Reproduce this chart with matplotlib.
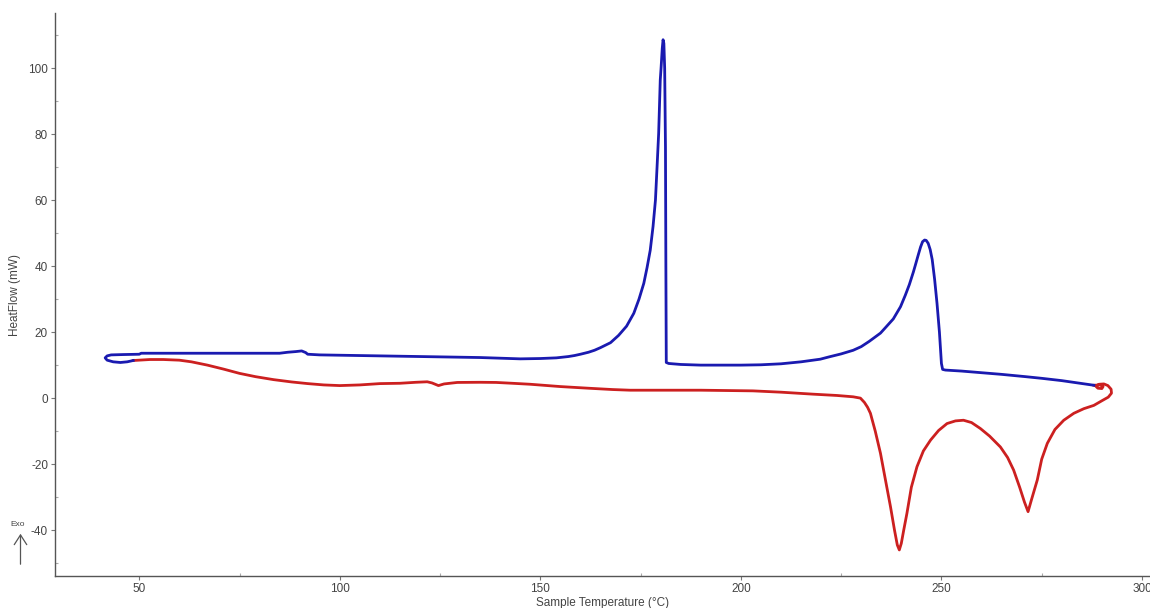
import matplotlib
matplotlib.use("Agg")
import matplotlib.pyplot as plt
from matplotlib.ticker import MultipleLocator
from matplotlib.patches import FancyArrowPatch

# Cooling curve (blue), read from right to left
cool_temp = [288.0, 284, 280, 275, 271, 265, 260, 255, 251, 250.3, 250.0, 249.5, 248.9, 248.3,
             247.7, 247.2, 246.7, 246.2, 245.8, 245.3, 244.8, 244.2, 243.5, 243, 242, 241, 239.8, 238, 236,
             234.8, 232, 230, 228, 225, 222, 219.8, 215, 210, 205, 200, 195, 190, 185, 182,
             181.4, 181.3, 181.2, 181.0, 180.8, 180.6, 180.4, 180.1, 179.9, 179.5, 179.1,
             178.7, 178.1, 177.4, 176.6, 175.8, 174.6, 173.3, 171.5, 169.5, 167.5, 165, 163.5, 162,
             160, 158.5, 157, 154, 150, 145, 140, 135, 130, 120, 110, 100, 95, 92, 91.5, 90.5, 89,
             87, 85, 80, 70, 60, 50.5, 50, 46, 43, 42, 41.5, 42, 43.5, 45.3, 47, 48.5]
cool_flow = [3.9, 4.6, 5.3, 6.0, 6.5, 7.2, 7.7, 8.2, 8.5, 8.7, 10.5, 20, 28.7, 36,
             42.0, 45.0, 46.9, 47.8, 47.9, 47.4, 45.8, 43.3, 40.3, 38.2, 34.4, 31.2, 27.7, 24, 21.3,
             19.7, 17.2, 15.6, 14.5, 13.4, 12.5, 11.8, 11.0, 10.4, 10.1, 10.0, 10.0, 10.0, 10.2, 10.5,
             10.8, 40, 76, 100, 107.5, 108.6, 106, 100, 96.4, 80.2, 70,
             60, 52, 44.8, 39.5, 34.8, 30, 25.7, 21.8, 19.0, 16.8, 15.3, 14.5, 13.9,
             13.3, 12.9, 12.6, 12.2, 12.0, 11.9, 12.1, 12.3, 12.4, 12.6, 12.8, 13.0, 13.1, 13.3, 13.8, 14.3, 14.1,
             13.9, 13.6, 13.6, 13.6, 13.6, 13.6, 13.3, 13.2, 13.1, 12.8, 12.2, 11.5, 11.0, 10.8, 11.0, 11.4]

# Heating curve (red), read from left to right
heat_temp = [48.5, 52.7, 56, 60, 63, 67, 71, 75, 79, 83.5, 88, 92, 96, 100, 105, 110, 115, 119,
             121.8, 123, 124.6, 126, 129.3, 135, 139, 143, 147.5, 155, 162, 168, 172.4, 180, 190,
             203, 210, 218, 224, 228, 229.8, 230.8, 231.6, 232.3, 233.5, 234.8, 236, 237.3,
             238.3, 239, 239.5, 240, 240.6, 241.4, 242.5, 243.9, 245.5, 247.3, 249.3, 251.4,
             253.5, 255.5, 257.5, 259.7, 262, 264.7, 266.5, 268, 269.5, 270.7, 271.6, 272.4,
             273.9, 275, 276.4, 278.3, 280.5, 283, 285.5, 288, 290, 291.6, 292.4, 292.3, 291.5,
             290.5, 289.3, 288.5, 289, 290, 290.3, 289.5, 288.0]
heat_flow = [11.4, 11.7, 11.7, 11.5, 11.0, 10.0, 8.8, 7.5, 6.5, 5.6, 4.9, 4.4, 4.0, 3.8, 4.0, 4.4, 4.5, 4.8,
             4.95, 4.6, 3.8, 4.3, 4.75, 4.8, 4.75, 4.5, 4.2, 3.5, 3.0, 2.6, 2.4, 2.4, 2.4,
             2.2, 1.8, 1.2, 0.8, 0.4, 0.0, -1.3, -2.8, -4.6, -10, -16.7, -24.5, -32.9,
             -40, -44.5, -46, -44, -40, -34.9, -27, -20.8, -16, -12.7, -9.8, -7.7,
             -6.9, -6.7, -7.4, -9.2, -11.5, -14.8, -18, -21.8, -27, -31.5, -34.4, -31,
             -24.8, -18.5, -13.7, -9.5, -6.7, -4.6, -3.2, -2.2, -0.8, 0.3, 1.5, 2.7, 3.8,
             4.3, 4.2, 3.6, 3.0, 2.9, 3.5, 4.0, 3.9]

x_ticks = [50, 100, 150, 200, 250, 300]
y_ticks = [-40, -20, 0, 20, 40, 60, 80, 100]

plt.rcParams['font.family'] = ['Liberation Sans', 'DejaVu Sans']
plt.rcParams['axes.unicode_minus'] = False

fig = plt.figure(figsize=(11.5, 6.08), dpi=100)
ax = fig.add_axes([55/1150, 32/608, 1 - 55/1150, (576-13)/608])

ax.plot(heat_temp, heat_flow, color='#cc2020', lw=2.0, solid_joinstyle='round')
ax.plot(cool_temp, cool_flow, color='#1a1ab0', lw=2.0, solid_joinstyle='round')

ax.set_xlim(29, 302)
ax.set_ylim(-53.9, 116.7)
ax.set_xticks(x_ticks)
ax.set_yticks(y_ticks)
ax.xaxis.set_minor_locator(MultipleLocator(25))
ax.yaxis.set_minor_locator(MultipleLocator(10))

for s in ['top', 'right']:
    ax.spines[s].set_visible(False)
for s in ['left', 'bottom']:
    ax.spines[s].set_color('#555555')
    ax.spines[s].set_linewidth(1.0)

ax.tick_params(which='major', direction='out', length=3, width=0.8, color='#777777',
               labelsize=8.5, labelcolor='#444444', pad=2)
ax.tick_params(which='minor', direction='in', length=2.5, width=0.8, color='#aaaaaa')

ax.set_xlabel('Sample Temperature (°C)', fontsize=8.5, color='#444444')
ax.set_ylabel('HeatFlow (mW)', fontsize=8.5, color='#444444')
ax.xaxis.set_label_coords(0.5, -0.038)
ax.yaxis.set_label_coords(-0.031, 0.5)

# Exo arrow
arr = FancyArrowPatch((20.5/1150, 1 - 567/608), (20.5/1150, 1 - 531/608),
                      transform=fig.transFigure, arrowstyle='->,head_length=0.7,head_width=0.45',
                      mutation_scale=10, color='#555555', lw=0.9)
fig.add_artist(arr)
fig.text(18/1150, 1 - 525/608, 'Exo', fontsize=6, color='#444444', ha='center', va='center')

fig.savefig('out.png', dpi=100)
